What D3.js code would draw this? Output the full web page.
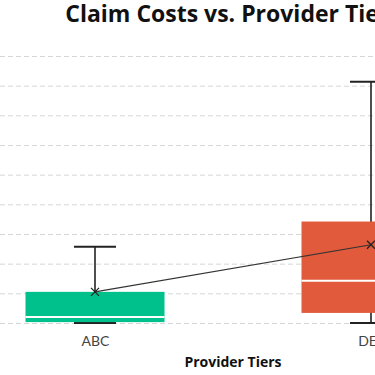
<!DOCTYPE html>
<meta charset="utf-8">
<style>
  html, body { margin: 0; padding: 0; background: #fff; overflow: hidden; }
  svg { display: block; }
</style>
<body>
<div id="chart"></div>
<script src="https://cdn.jsdelivr.net/npm/d3@7"></script>
<script>

// data (claim cost summary per provider tier)
var categories = ["ABC", "DEF"];
var mins    = [0, 0];
var q1s     = [30, 340];
var medians = [200, 1420];
var q3s     = [1050, 3420];
var maxs    = [2570, 8130];
var means   = [1050, 2640];
var yTicks  = [0, 1000, 2000, 3000, 4000, 5000, 6000, 7000, 8000, 9000];
var colors  = ["#00c08b", "#e05a3b"];

var width = 375, height = 375;

var svg = d3.select("#chart")
  .append("svg")
    .attr("width", width)
    .attr("height", height);

// plot area is wider than the window, the picture only shows part of it
var x = d3.scalePoint()
  .domain(categories)
  .range([-43, 509])
  .padding(0.5);

var y = d3.scaleLinear()
  .domain([0, 9000])
  .range([323, 56]);

var boxW = 139, capW = 42;

// grid lines (their labels fall outside the visible window)
svg.append("g")
  .selectAll("line")
  .data(yTicks)
  .enter()
  .append("line")
    .attr("x1", -200)
    .attr("x2", 700)
    .attr("y1", function(d) { return y(d) + 0.5; })
    .attr("y2", function(d) { return y(d) + 0.5; })
    .attr("stroke", "#d6d6d6")
    .attr("stroke-dasharray", "5,3");

var boxes = categories.map(function(c, i) {
  return { cat: c, min: mins[i], q1: q1s[i], med: medians[i], q3: q3s[i], max: maxs[i], mean: means[i], color: colors[i] };
});

// whiskers
svg.selectAll("whisker")
  .data(boxes)
  .enter()
  .append("line")
    .attr("x1", function(d) { return x(d.cat); })
    .attr("x2", function(d) { return x(d.cat); })
    .attr("y1", function(d) { return y(d.max); })
    .attr("y2", function(d) { return y(d.min); })
    .attr("stroke", "#222")
    .attr("stroke-width", 1.6);

svg.selectAll("capTop")
  .data(boxes)
  .enter()
  .append("line")
    .attr("x1", function(d) { return x(d.cat) - capW / 2; })
    .attr("x2", function(d) { return x(d.cat) + capW / 2; })
    .attr("y1", function(d) { return y(d.max); })
    .attr("y2", function(d) { return y(d.max); })
    .attr("stroke", "#222")
    .attr("stroke-width", 2);

svg.selectAll("capBottom")
  .data(boxes)
  .enter()
  .append("line")
    .attr("x1", function(d) { return x(d.cat) - capW / 2; })
    .attr("x2", function(d) { return x(d.cat) + capW / 2; })
    .attr("y1", function(d) { return y(d.min); })
    .attr("y2", function(d) { return y(d.min); })
    .attr("stroke", "#222")
    .attr("stroke-width", 2);

// boxes
svg.selectAll("box")
  .data(boxes)
  .enter()
  .append("rect")
    .attr("x", function(d) { return x(d.cat) - boxW / 2; })
    .attr("y", function(d) { return y(d.q3); })
    .attr("width", boxW)
    .attr("height", function(d) { return y(d.q1) - y(d.q3); })
    .attr("fill", function(d) { return d.color; });

// medians
svg.selectAll("median")
  .data(boxes)
  .enter()
  .append("line")
    .attr("x1", function(d) { return x(d.cat) - boxW / 2; })
    .attr("x2", function(d) { return x(d.cat) + boxW / 2; })
    .attr("y1", function(d) { return y(d.med); })
    .attr("y2", function(d) { return y(d.med); })
    .attr("stroke", "#fff")
    .attr("stroke-width", 2);

// line through the means
svg.append("path")
  .datum(boxes)
  .attr("fill", "none")
  .attr("stroke", "#333")
  .attr("stroke-width", 1.1)
  .attr("d", d3.line()
    .x(function(d) { return x(d.cat); })
    .y(function(d) { return y(d.mean); }));

// mean markers
svg.selectAll("meanMark")
  .data(boxes)
  .enter()
  .append("path")
    .attr("transform", function(d) { return "translate(" + x(d.cat) + "," + y(d.mean) + ")"; })
    .attr("d", "M-4,-4L4,4M-4,4L4,-4")
    .attr("stroke", "#222")
    .attr("stroke-width", 1.3)
    .attr("fill", "none");

// x axis labels
var xAxis = svg.append("g")
  .attr("transform", "translate(0,333)")
  .call(d3.axisBottom(x).tickSize(0));
xAxis.select(".domain").remove();
xAxis.selectAll("text")
  .attr("font-family", "Lato, sans-serif")
  .attr("font-size", "14px")
  .attr("fill", "#444");

// title
svg.append("text")
  .attr("x", 233)
  .attr("y", 22)
  .attr("text-anchor", "middle")
  .attr("font-family", "'Open Sans', sans-serif")
  .attr("font-weight", 700)
  .attr("font-size", "23px")
  .attr("fill", "#111")
  .text("Claim Costs vs. Provider Tiers");

// x axis title
svg.append("text")
  .attr("x", 233)
  .attr("y", 367)
  .attr("text-anchor", "middle")
  .attr("font-family", "'Open Sans', sans-serif")
  .attr("font-weight", 700)
  .attr("font-size", "14px")
  .attr("fill", "#111")
  .text("Provider Tiers");

</script>
</body>
